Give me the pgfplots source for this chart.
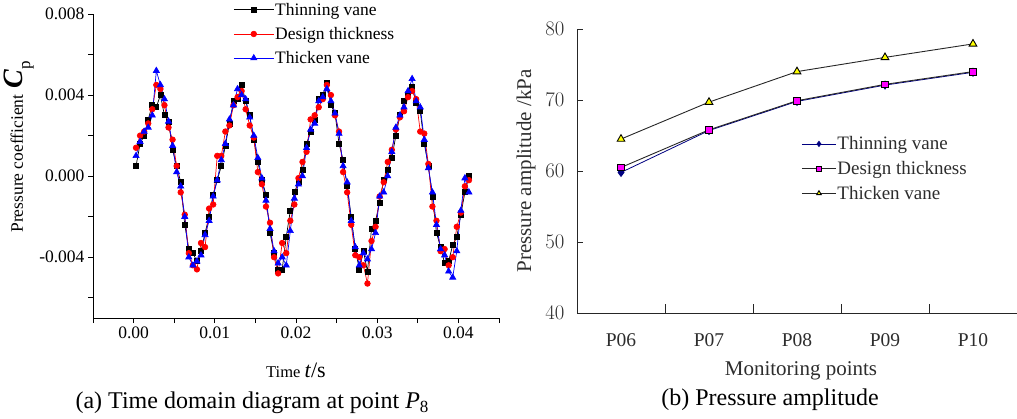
\documentclass[border=0pt]{standalone}
\usepackage{fontspec}
\setmainfont{Liberation Serif}
\usepackage{pgfplots}
\pgfplotsset{compat=1.18}
\usepackage{pgfplotstable}

\definecolor{navyb}{RGB}{0,0,128}
\definecolor{magb}{RGB}{255,0,255}
\definecolor{yelb}{RGB}{255,255,0}
\definecolor{rtext}{RGB}{45,45,45}

% time series at point P8: t, thinning, design, thicken
\pgfplotstableread{
t thin design thick
0.0003 0.0005 0.0014 0.0010
0.0008 0.0016 0.0020 0.0017
0.0013 0.0020 0.0022 0.0022
0.0018 0.0028 0.0026 0.0024
0.0023 0.0035 0.0033 0.0030
0.0028 0.0034 0.0045 0.0052
0.0033 0.0040 0.0043 0.0045
0.0038 0.0030 0.0035 0.0038
0.0043 0.0027 0.0024 0.0027
0.0048 0.0013 0.0018 0.0015
0.0053 0.0005 0.0005 0.0002
0.0058 -0.0003 -0.0008 -0.0005
0.0063 -0.0024 -0.0019 -0.0020
0.0068 -0.0036 -0.0038 -0.0040
0.0073 -0.0038 -0.0044 -0.0044
0.0078 -0.0042 -0.0046 -0.0042
0.0083 -0.0037 -0.0033 -0.0039
0.0088 -0.0028 -0.0035 -0.0029
0.0093 -0.0020 -0.0016 -0.0022
0.0098 -0.0009 -0.0014 -0.0010
0.0103 -0.0002 0.0010 -0.0002
0.0108 0.0005 0.0010 0.0008
0.0113 0.0015 0.0022 0.0016
0.0118 0.0026 0.0025 0.0028
0.0123 0.0037 0.0035 0.0035
0.0128 0.0038 0.0039 0.0043
0.0133 0.0045 0.0042 0.0040
0.0138 0.0037 0.0033 0.0038
0.0143 0.0030 0.0025 0.0029
0.0148 0.0018 0.0019 0.0020
0.0153 0.0007 0.0002 0.0009
0.0158 -0.0002 -0.0004 -0.0001
0.0163 -0.0009 -0.0015 -0.0012
0.0168 -0.0028 -0.0023 -0.0026
0.0173 -0.0038 -0.0040 -0.0037
0.0178 -0.0046 -0.0048 -0.0043
0.0183 -0.0046 -0.0033 -0.0040
0.0188 -0.0030 -0.0038 -0.0044
0.0193 -0.0017 -0.0022 -0.0027
0.0198 -0.0008 -0.0014 -0.0011
0.0203 -0.0003 -0.0001 -0.0004
0.0208 0.0003 0.0007 0.0000
0.0213 0.0016 0.0012 0.0014
0.0218 0.0022 0.0028 0.0023
0.0223 0.0028 0.0030 0.0026
0.0228 0.0038 0.0034 0.0037
0.0233 0.0040 0.0038 0.0039
0.0238 0.0046 0.0045 0.0043
0.0243 0.0035 0.0040 0.0037
0.0248 0.0031 0.0030 0.0031
0.0253 0.0016 0.0022 0.0021
0.0258 0.0008 0.0002 0.0005
0.0263 -0.0005 -0.0008 -0.0003
0.0268 -0.0020 -0.0024 -0.0022
0.0273 -0.0036 -0.0039 -0.0035
0.0278 -0.0046 -0.0040 -0.0044
0.0283 -0.0037 -0.0044 -0.0038
0.0288 -0.0047 -0.0053 -0.0041
0.0293 -0.0026 -0.0032 -0.0036
0.0298 -0.0022 -0.0025 -0.0028
0.0303 -0.0013 -0.0010 -0.0010
0.0308 -0.0002 -0.0003 -0.0008
0.0313 0.0003 0.0007 0.0000
0.0318 0.0009 0.0013 0.0012
0.0323 0.0020 0.0023 0.0024
0.0328 0.0030 0.0029 0.0030
0.0333 0.0037 0.0032 0.0034
0.0338 0.0040 0.0039 0.0042
0.0343 0.0044 0.0042 0.0048
0.0348 0.0036 0.0038 0.0037
0.0353 0.0032 0.0022 0.0034
0.0358 0.0016 0.0021 0.0018
0.0363 0.0005 0.0006 0.0004
0.0368 -0.0010 -0.0015 -0.0008
0.0373 -0.0028 -0.0022 -0.0024
0.0378 -0.0035 -0.0037 -0.0036
0.0383 -0.0043 -0.0036 -0.0039
0.0388 -0.0042 -0.0044 -0.0047
0.0393 -0.0034 -0.0040 -0.0050
0.0398 -0.0030 -0.0025 -0.0037
0.0403 -0.0019 -0.0018 -0.0017
0.0408 -0.0008 -0.0005 -0.0001
0.0413 0.0000 -0.0002 -0.0008
}\cpdata

% pressure amplitude, kPa
\pgfplotstableread{
x thin design thick
0 59.8 60.5 64.5
1 65.7 65.8 69.7
2 69.8 69.9 74.0
3 72.1 72.2 76.0
4 73.9 74.0 77.9
}\ampdata

\begin{document}
\begin{tikzpicture}[x=1pt,y=1pt]
\useasboundingbox (0,0) rectangle (1017,418);

% (a) time domain
\begin{axis}[
  at={(93pt,100pt)}, anchor=south west,
  scale only axis, width=406pt, height=304pt,
  xmin=-0.005, xmax=0.045, ymin=-0.007, ymax=0.008,
  axis x line*=bottom, axis y line*=left,
  axis line style={line width=0.8pt},
  tick align=outside,
  scaled ticks=false,
  xtick={0,0.01,0.02,0.03,0.04},
  xticklabels={0.00,0.01,0.02,0.03,0.04},
  minor xtick={-0.005,0.005,0.015,0.025,0.035,0.045},
  ytick={-0.004,0,0.004,0.008},
  yticklabels={-0.004,0.000,0.004,0.008},
  minor ytick={-0.006,-0.002,0.002,0.006},
  major tick length=5pt, minor tick length=5pt,
  every tick/.style={black, line width=0.8pt},
  ticklabel style={font=\fontsize{17.5}{20}\selectfont},
  legend style={at={(0.338,1.05)}, anchor=north west, draw=none, fill=none,
    font=\fontsize{17.5}{21}\selectfont, row sep=6.5pt,
    nodes={inner xsep=1pt}},
  legend cell align=left,
  every axis plot post/.append style={
    legend image code/.code={\draw[mark repeat=2,mark phase=2,##1]
      plot coordinates {(0pt,0pt) (20pt,0pt) (40pt,0pt)};}},
  clip=false,
]
\addplot[black, line width=0.7pt, mark=square*, mark size=2.5pt] table[x=t,y=thin] {\cpdata};
\addlegendentry{Thinning vane}
\addplot[red, line width=0.7pt, mark=*, mark size=2.8pt] table[x=t,y=design] {\cpdata};
\addlegendentry{Design thickness}
\addplot[blue, line width=0.7pt, mark=triangle*, mark size=3.5pt] table[x=t,y=thick] {\cpdata};
\addlegendentry{Thicken vane}
\end{axis}

% (b) pressure amplitude
\begin{axis}[
  at={(577pt,105pt)}, anchor=south west,
  scale only axis, width=440pt, height=284pt,
  xmin=-0.5, xmax=4.5, ymin=40, ymax=80,
  axis x line*=bottom, axis y line*=left,
  axis line style={black!85, line width=0.9pt},
  tick align=inside,
  xtick={0,1,2,3,4},
  xticklabels={P06,P07,P08,P09,P10},
  major x tick style={draw=none},
  minor xtick={0.5,1.5,2.5,3.5},
  minor tick length=9pt,
  ytick={40,50,60,70,80},
  major tick length=6pt,
  every tick/.style={black!85, line width=0.9pt},
  ticklabel style={font=\fontsize{19.5}{21}\selectfont, text=rtext},
  xticklabel style={yshift=-17pt},
  yticklabel style={xshift=-9pt},
  legend style={at={(0.503,0.636)}, anchor=north west, draw=none, fill=none,
    font=\fontsize{19}{22}\selectfont, text=rtext, row sep=6pt,
    nodes={inner xsep=1pt}},
  legend cell align=left,
  every axis plot post/.append style={
    legend image code/.code={\draw[mark repeat=2,mark phase=2,##1,mark size=2.6pt]
      plot coordinates {(0pt,0pt) (17pt,0pt) (34pt,0pt)};}},
]
\addplot[navyb, line width=0.8pt, mark=diamond*, mark size=4pt, mark options={fill=navyb}] table[x=x,y=thin] {\ampdata};
\addlegendentry{Thinning vane}
\addplot[black!85, line width=0.9pt, mark=square*, mark size=3.4pt, mark options={fill=magb, draw=black}] table[x=x,y=design] {\ampdata};
\addlegendentry{Design thickness}
\addplot[black!85, line width=0.9pt, mark=triangle*, mark size=4.4pt, mark options={fill=yelb, draw=black}] table[x=x,y=thick] {\ampdata};
\addlegendentry{Thicken vane}
\end{axis}

% labels
\node[rotate=90, anchor=base] at (23,271)
  {\fontsize{17.5}{20}\selectfont Pressure coefficient\hspace{6pt}{\fontsize{28}{30}\selectfont\bfseries\itshape C}\raisebox{-7pt}{\fontsize{17}{20}\selectfont p}};
\node[anchor=base] at (296,41)
  {\fontsize{16.5}{20}\selectfont Time \fontsize{22}{24}\selectfont\textit{t}/s};
\node[anchor=base] at (252,10)
  {\fontsize{24}{28}\selectfont (a) Time domain diagram at point \textit{P}\raisebox{-4pt}{\fontsize{17}{20}\selectfont 8}};

\node[rotate=90, anchor=base, text=rtext] at (531,247)
  {\fontsize{21}{24}\selectfont Pressure amplitude /kPa};
\node[anchor=base, text=rtext] at (801,43)
  {\fontsize{21}{24}\selectfont Monitoring points};
\node[anchor=base] at (770,13)
  {\fontsize{24}{28}\selectfont (b) Pressure amplitude};
\end{tikzpicture}
\end{document}
